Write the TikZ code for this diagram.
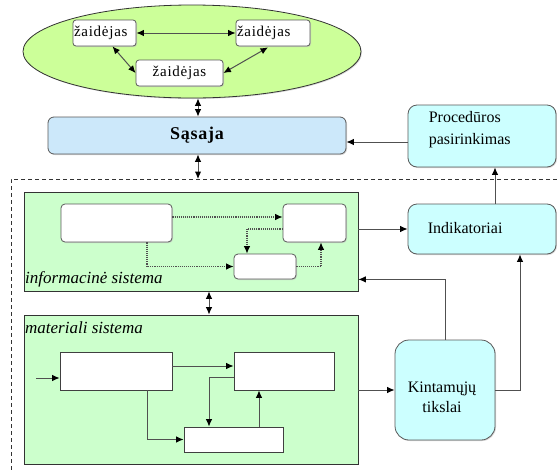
\documentclass[tikz,border=0pt]{standalone}
\usepackage{fontspec}
\setmainfont{Liberation Serif}
\usetikzlibrary{arrows.meta,shapes.geometric,calc,shadows}

\definecolor{ellgreen}{HTML}{CCFF99}
\definecolor{sysgreen}{HTML}{CCFFCC}
\definecolor{ifblue}{HTML}{CCE8FA}
\definecolor{boxcyan}{HTML}{CCFFFF}
\definecolor{linegray}{HTML}{505050}

\tikzset{
  tip/.style={-{Latex[length=7.5pt,width=6.5pt,color=black]}},
  dtip/.style={{Latex[length=7.5pt,width=6.5pt,color=black]}-{Latex[length=7.5pt,width=6.5pt,color=black]}},
  conn/.style={draw=linegray, line width=1pt},
  dotconn/.style={draw=linegray, line width=1.1pt, densely dotted},
  shade/.style={drop shadow={shadow xshift=1pt, shadow yshift=-1pt, fill=black!25, opacity=0.6}},
  player/.style={draw=black!65, fill=white, rounded corners=3pt, line width=0.8pt,
    inner sep=0pt, minimum height=26pt, shade,
    font=\fontsize{15}{17}\selectfont\addfontfeature{LetterSpace=5}},
  roundbox/.style={draw=black!65, fill=white, rounded corners=4pt, line width=0.8pt,
    inner sep=0pt, shade},
  plainbox/.style={draw=black!75, fill=white, line width=0.8pt, inner sep=0pt},
  sysbox/.style={draw=black!80, fill=sysgreen, line width=0.8pt, inner sep=0pt},
  cyanbox/.style={draw=black!65, fill=boxcyan, line width=0.8pt, inner sep=0pt, shade},
  syslabel/.style={anchor=base west, inner sep=0pt,
    font=\fontsize{17}{19}\selectfont\itshape},
  boxtext/.style={inner sep=0pt, align=left, font=\fontsize{16}{22}\selectfont}
}

\begin{document}
\begin{tikzpicture}[x=1pt, y=-1pt]
\useasboundingbox (0,0) rectangle (557,472);

% helper abscissae for the orthogonal connectors
\coordinate (x147) at (147,0);
\coordinate (x198) at (198,0);
\coordinate (x209) at (209,0);
\coordinate (x247) at (247,0);
\coordinate (x259) at (259,0);
\coordinate (x321) at (321,0);
\coordinate (x495) at (495,0);
\coordinate (x520) at (520,0);

% ---- players in the common environment ----
\node[ellipse, draw=black!80, fill=ellgreen, line width=0.8pt, inner sep=0pt,
      minimum width=338pt, minimum height=93pt, shade] (env) at (192,51.5) {};
\node[player, minimum width=63pt, text width=61pt, align=left] (p1) at (104.5,33) {žaidėjas};
\node[player, minimum width=74pt, text width=72pt, align=left] (p2) at (273,33) {žaidėjas};
\node[player, minimum width=87pt] (p3) at (179.5,73) {žaidėjas};

\draw[conn, dtip] (p1.east) -- (p2.west);
\draw[conn, dtip] ($(p1.south)+(8,0)$) -- (p3.west);
\draw[conn, dtip] ($(p2.south)+(-5,1)$) -- (p3.east);

% ---- interface ----
\node[draw=black!65, fill=ifblue, rounded corners=6pt, line width=0.8pt, inner sep=0pt,
      minimum width=298pt, minimum height=37pt, shade,
      font=\fontsize{18}{20}\selectfont\bfseries\addfontfeature{LetterSpace=4}] (sas) at (197,135.5) {Sąsaja};

\draw[conn, dtip] (env.south -| x198) -- (sas.north -| x198);

% ---- procedure choice and indicators ----
\node[cyanbox, rounded corners=9pt, minimum width=148pt, minimum height=62pt] (proc) at (482,136) {};
\node[boxtext, anchor=west] (proctext) at ($(proc.west)+(21,-6)$) {Procedūros\\pasirinkimas};

\node[cyanbox, rounded corners=9pt, minimum width=148pt, minimum height=50pt] (ind) at (482,229) {};
\node[boxtext, anchor=west] (indtext) at ($(ind.west)+(20,-1)$) {Indikatoriai};

\coordinate (pa) at ($(proc.west)+(0,6)$);
\draw[conn, tip] (pa) -- (pa -| sas.east);
\draw[conn, tip] (ind.north -| x495) -- (proc.south -| x495);

% ---- system boundary ----
\coordinate (dl) at (11,179);
\draw[black!80, line width=0.8pt, dash pattern=on 4pt off 3pt] (557,179) -- (dl) -- (11,472);
\draw[conn, dtip] (sas.south -| x198) -- (dl -| x198);

% ---- information system ----
\node[sysbox, minimum width=334pt, minimum height=99pt] (info) at (191,241.5) {};
\node[syslabel] (infolabel) at (25,283) {informacinė sistema};
\node[roundbox, minimum width=111pt, minimum height=38pt] (ia) at (116.5,223) {};
\node[roundbox, minimum width=63pt, minimum height=38pt] (ib) at (314.5,223) {};
\node[roundbox, minimum width=62pt, minimum height=25pt] (ic) at (265,266.5) {};

\draw[dotconn, tip] ($(ia.east)+(0,-6)$) -- ($(ib.west)+(0,-6)$);
\draw[dotconn, tip] ($(ib.west)+(0,6)$) -| (ic.north -| x247);
\draw[dotconn, tip] (ia.south -| x147) |- (ic.west);
\draw[dotconn, tip] (ic.east) -| (ib.south -| x321);

% ---- material system ----
\node[sysbox, minimum width=334pt, minimum height=149pt] (mat) at (191,389.5) {};
\node[syslabel] (matlabel) at (25,333) {materiali sistema};
\node[plainbox, minimum width=112pt, minimum height=38pt] (md) at (116,371) {};
\node[plainbox, minimum width=100pt, minimum height=38pt] (me) at (284,371) {};
\node[plainbox, minimum width=99pt, minimum height=25pt] (mf) at (233.5,439.5) {};

\coordinate (input) at (36,378);
\draw[conn, tip] (input) -- (input -| md.west);
\draw[conn, tip] ($(md.east)+(0,-5)$) -- ($(me.west)+(0,-5)$);
\draw[conn, tip] ($(me.west)+(0,6)$) -| (mf.north -| x209);
\draw[conn, tip] (md.south -| x147) |- (mf.west);
\draw[conn, tip] (mf.north -| x259) -- (me.south -| x259);

\draw[conn, dtip] (info.south -| x209) -- (mat.north -| x209);

% ---- target variables ----
\node[cyanbox, rounded corners=14pt, minimum width=100pt, minimum height=100pt] (kin) at (445,390) {};
\node[inner sep=0pt, align=center, font=\fontsize{16}{20}\selectfont] (kintext) at ($(kin.center)+(-3,7)$) {Kintamųjų\\tikslai};

\draw[conn, tip] (kin.west -| mat.east) -- (kin.west);
\draw[conn, tip] (kin.north) |- ($(info.south east)+(0,-12)$);
\draw[conn, tip] (kin.east) -| (ind.south -| x520);
\draw[conn, tip] (ind.west -| info.east) -- (ind.west);

\end{tikzpicture}
\end{document}
